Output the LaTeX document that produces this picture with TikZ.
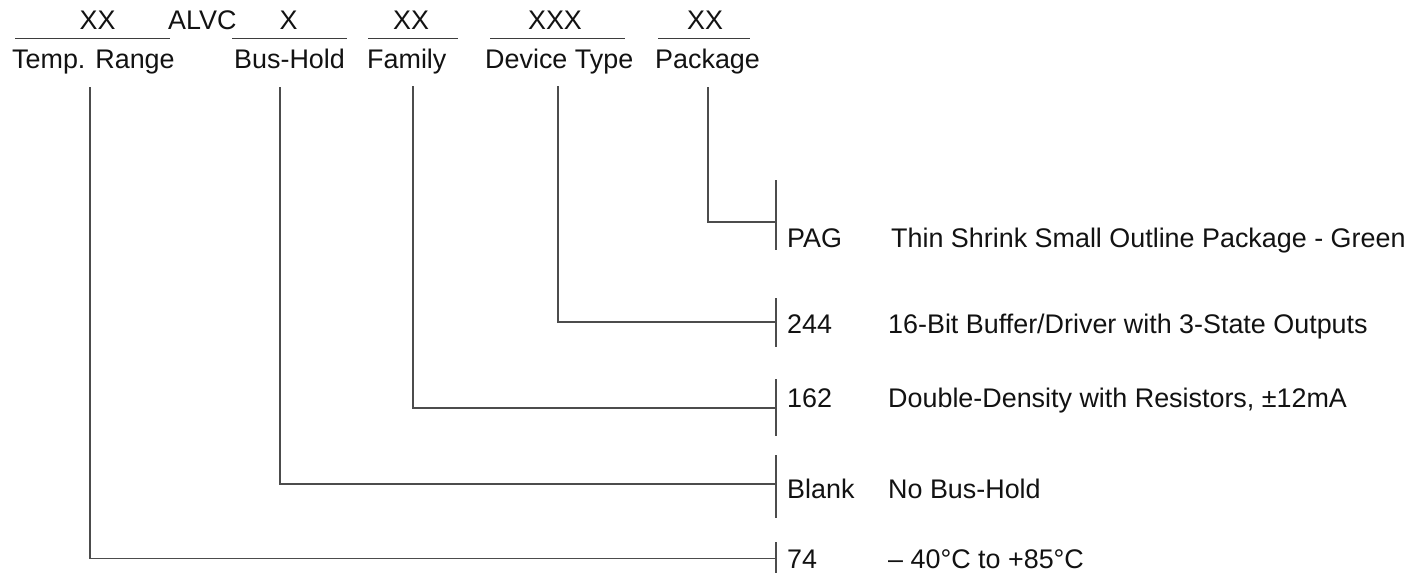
\documentclass[tikz,border=0pt]{standalone}
\usepackage{fontspec}
\setmainfont{Liberation Sans}
\begin{document}
\begin{tikzpicture}[x=1pt,y=-1pt,
  txt/.style={font=\fontsize{26.9}{30}\selectfont, inner sep=0pt, text=black!93},
  ln/.style={line width=1.5pt, draw=black!70},
  uline/.style={line width=1.5pt, draw=black!76}]
\useasboundingbox (0,0) rectangle (1413,573);

% top code row
\node[txt,anchor=base] (c1) at (97.5,29) {XX};
\node[txt,anchor=base west] (alvc) at (168,29) {ALVC};
\node[txt,anchor=base] (c2) at (288.5,29) {X};
\node[txt,anchor=base] (c3) at (411,29) {XX};
\node[txt,anchor=base] (c4) at (555,29) {XXX};
\node[txt,anchor=base] (c5) at (705,29) {XX};

% underlines
\draw[uline] (15,38.5) -- (170,38.5);
\draw[uline] (232,38.5) -- (347,38.5);
\draw[uline] (368,38.5) -- (458,38.5);
\draw[uline] (490,38.5) -- (625,38.5);
\draw[uline] (658,38.5) -- (750,38.5);

% field labels
\node[txt,anchor=base west] (ltemp) at (12,68) {Temp. Range};
\node[txt,anchor=base west] (lbus) at (234,68) {Bus-Hold};
\node[txt,anchor=base west] (lfam) at (367,68) {Family};
\node[txt,anchor=base west] (ldev) at (485,68) {Device Type};
\node[txt,anchor=base west] (lpkg) at (655,68) {Package};

% start points of leader lines
\coordinate (stemp) at (90,87);
\coordinate (sbus) at (280,87);
\coordinate (sfam) at (413,86);
\coordinate (sdev) at (558,86);
\coordinate (spkg) at (708,87);

% junctions on the right-hand brackets
\coordinate (jpkg) at (776,222);
\coordinate (jdev) at (776,322);
\coordinate (jfam) at (776,408);
\coordinate (jbus) at (776,484);
\coordinate (jtemp) at (776,558.5);

% leader lines
\draw[ln] (spkg) |- (jpkg);
\draw[ln] (sdev) |- (jdev);
\draw[ln] (sfam) |- (jfam);
\draw[ln] (sbus) |- (jbus);
\draw[ln] (stemp) |- (jtemp);

% brackets
\coordinate (bpkgT) at (776,180); \coordinate (bpkgB) at (776,250);
\coordinate (bdevT) at (776,298); \coordinate (bdevB) at (776,347);
\coordinate (bfamT) at (776,379); \coordinate (bfamB) at (776,436);
\coordinate (bbusT) at (776,455); \coordinate (bbusB) at (776,518);
\coordinate (btempT) at (776,542); \coordinate (btempB) at (776,573);
\draw[ln] (bpkgT) -- (bpkgB);
\draw[ln] (bdevT) -- (bdevB);
\draw[ln] (bfamT) -- (bfamB);
\draw[ln] (bbusT) -- (bbusB);
\draw[ln] (btempT) -- (btempB);

% codes
\node[txt,anchor=base west] (kpkg) at (787,247) {PAG};
\node[txt,anchor=base west] (kdev) at (787,333) {244};
\node[txt,anchor=base west] (kfam) at (787,407) {162};
\node[txt,anchor=base west] (kbus) at (787,498) {Blank};
\node[txt,anchor=base west] (ktemp) at (787,568) {74};

% descriptions
\node[txt,anchor=base west] (dpkg) at (891,247) {Thin Shrink Small Outline Package - Green};
\node[txt,anchor=base west] (ddev) at (888,333) {16-Bit Buffer/Driver with 3-State Outputs};
\node[txt,anchor=base west] (dfam) at (888,407) {Double-Density with Resistors, ±12mA};
\node[txt,anchor=base west] (dbus) at (888,498) {No Bus-Hold};
\node[txt,anchor=base west] (dtemp) at (888,568) {– 40°C to +85°C};
\end{tikzpicture}
\end{document}
